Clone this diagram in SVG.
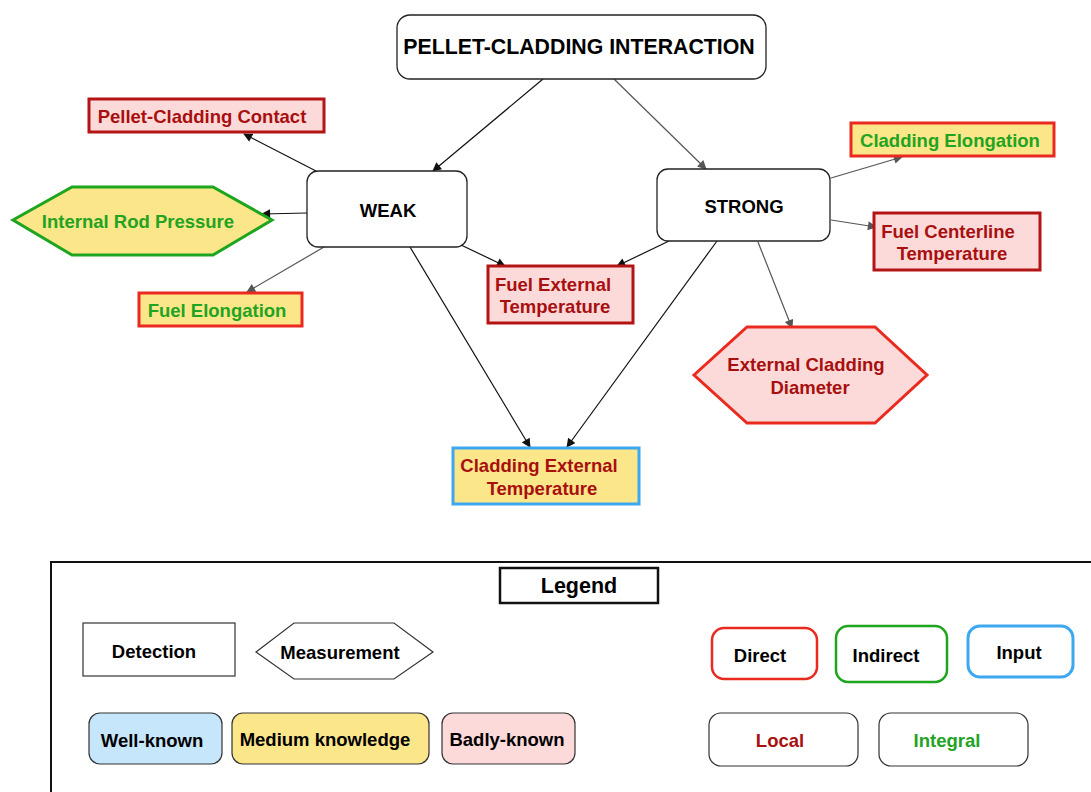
<svg xmlns="http://www.w3.org/2000/svg" width="1091" height="792" viewBox="0 0 1091 792">
<defs>
<marker id="ab" viewBox="0 0 10 10" refX="9" refY="5" markerWidth="10" markerHeight="9" markerUnits="userSpaceOnUse" orient="auto"><path d="M0,0 L10,5 L0,10 z" fill="#111"/></marker>
<marker id="ag" viewBox="0 0 10 10" refX="9" refY="5" markerWidth="10" markerHeight="9" markerUnits="userSpaceOnUse" orient="auto"><path d="M0,0 L10,5 L0,10 z" fill="#555"/></marker>
<style>
text{font-family:"Liberation Sans",Arial,sans-serif;font-weight:bold;text-anchor:middle;dominant-baseline:central}
.hub{fill:#fff;stroke:#222;stroke-width:1.3}
.dr{fill:#fddada;stroke:#b31414;stroke-width:3}
.ry{fill:#fbe68a;stroke:#ea2a1f;stroke-width:3}
.rp{fill:#fddada;stroke:#ea2a1f;stroke-width:3}
.gy{fill:#fbe68a;stroke:#1ea51e;stroke-width:3}
.by{fill:#fbe68a;stroke:#3da8f0;stroke-width:3}
.tr{fill:#a80f0f;font-size:18.5px}
.tg{fill:#22a322;font-size:18.5px}
.tb{fill:#000;font-size:18.5px}
.cb{stroke:#111;stroke-width:1.2;fill:none;marker-end:url(#ab)}
.cg{stroke:#555;stroke-width:1.2;fill:none;marker-end:url(#ag)}
.lg{stroke:#333;stroke-width:1.2}
</style>
</defs>
<rect width="1091" height="792" fill="#fff"/>
<g id="connectors">
<line class="cb" x1="543" y1="79" x2="433" y2="171"/>
<line class="cg" x1="614" y1="79" x2="706" y2="169"/>
<line class="cb" x1="316" y1="171" x2="244" y2="134"/>
<line class="cb" x1="307" y1="213" x2="262" y2="214"/>
<line class="cg" x1="324" y1="247" x2="247" y2="292"/>
<line class="cb" x1="461" y1="245" x2="505" y2="266"/>
<line class="cb" x1="669" y1="241" x2="617" y2="266"/>
<line class="cb" x1="410" y1="247" x2="530" y2="447"/>
<line class="cb" x1="717" y1="241" x2="567" y2="447"/>
<line class="cg" x1="831" y1="178" x2="902" y2="157"/>
<line class="cg" x1="831" y1="220" x2="876" y2="227"/>
<line class="cg" x1="758" y1="242" x2="792" y2="328"/>
</g>
<g id="pci"><rect class="hub" x="397" y="15" width="369" height="64" rx="13"/><text x="579" y="47" style="font-size:21.3px">PELLET-CLADDING INTERACTION</text></g>
<g id="weak"><rect class="hub" x="307" y="171" width="160" height="76" rx="11"/><text x="388" y="210" class="tb">WEAK</text></g>
<g id="strong"><rect class="hub" x="657" y="169" width="173" height="72" rx="11"/><text x="744" y="206" class="tb">STRONG</text></g>
<g id="pellet-contact"><rect class="dr" x="89" y="99" width="235" height="33"/><text x="202" y="116" class="tr">Pellet-Cladding Contact</text></g>
<g id="rod-pressure"><polygon class="gy" points="13,220 72,187 213,187 272,220 213,255 72,255"/><text x="138" y="221" class="tg">Internal Rod Pressure</text></g>
<g id="fuel-elongation"><rect class="ry" x="139" y="293" width="163" height="33"/><text x="217" y="310" class="tg">Fuel Elongation</text></g>
<g id="fuel-ext-temp"><rect class="dr" x="488" y="266" width="145" height="57"/><text x="553" y="284" class="tr">Fuel External</text><text x="555" y="306" class="tr">Temperature</text></g>
<g id="cladding-elongation"><rect class="ry" x="851" y="123" width="203" height="33"/><text x="950" y="140" class="tg">Cladding Elongation</text></g>
<g id="fuel-centerline"><rect class="dr" x="874" y="213" width="166" height="57"/><text x="948" y="231" class="tr">Fuel Centerline</text><text x="952" y="253" class="tr">Temperature</text></g>
<g id="ext-cladding-diameter"><polygon class="rp" points="694,375 747,327 875,327 927,375 875,423 747,423" /><text x="806" y="364" class="tr">External Cladding</text><text x="810" y="387" class="tr">Diameter</text></g>
<g id="cladding-ext-temp"><rect class="by" x="453" y="448" width="186" height="56"/><text x="539" y="465" class="tr">Cladding External</text><text x="542" y="488" class="tr">Temperature</text></g>
<g id="legend">
<rect x="51" y="562" width="1060" height="250" fill="none" stroke="#111" stroke-width="2"/>
<rect x="500" y="568" width="158" height="35" fill="#fff" stroke="#111" stroke-width="2.5"/>
<text x="579" y="586" style="font-size:21.5px">Legend</text>
<rect x="83" y="623" width="152" height="53" fill="#fff" class="lg"/><text x="154" y="651" class="tb">Detection</text>
<polygon points="256,652 294,623 394,623 433,652 394,679 294,679" fill="#fff" class="lg"/><text x="340" y="652" class="tb">Measurement</text>
<rect x="89" y="713" width="133" height="51" rx="11" fill="#c6e6fb" class="lg"/><text x="152" y="740" class="tb">Well-known</text>
<rect x="232" y="713" width="197" height="51" rx="11" fill="#fbe68a" class="lg"/><text x="325" y="739" class="tb">Medium knowledge</text>
<rect x="442" y="713" width="133" height="51" rx="11" fill="#fddada" class="lg"/><text x="507" y="739" class="tb">Badly-known</text>
<rect x="712" y="628" width="105" height="51" rx="12" fill="#fff" stroke="#ea2a1f" stroke-width="2.5"/><text x="760" y="655" class="tb">Direct</text>
<rect x="836" y="626" width="111" height="56" rx="12" fill="#fff" stroke="#1ea51e" stroke-width="2.5"/><text x="886" y="655" class="tb">Indirect</text>
<rect x="968" y="626" width="105" height="51" rx="12" fill="#fff" stroke="#3da8f0" stroke-width="3"/><text x="1019" y="652" class="tb">Input</text>
<rect x="709" y="713" width="149" height="53" rx="12" fill="#fff" class="lg"/><text x="780" y="740" class="tr">Local</text>
<rect x="879" y="713" width="149" height="53" rx="12" fill="#fff" class="lg"/><text x="947" y="740" class="tg">Integral</text>
</g>
</svg>
